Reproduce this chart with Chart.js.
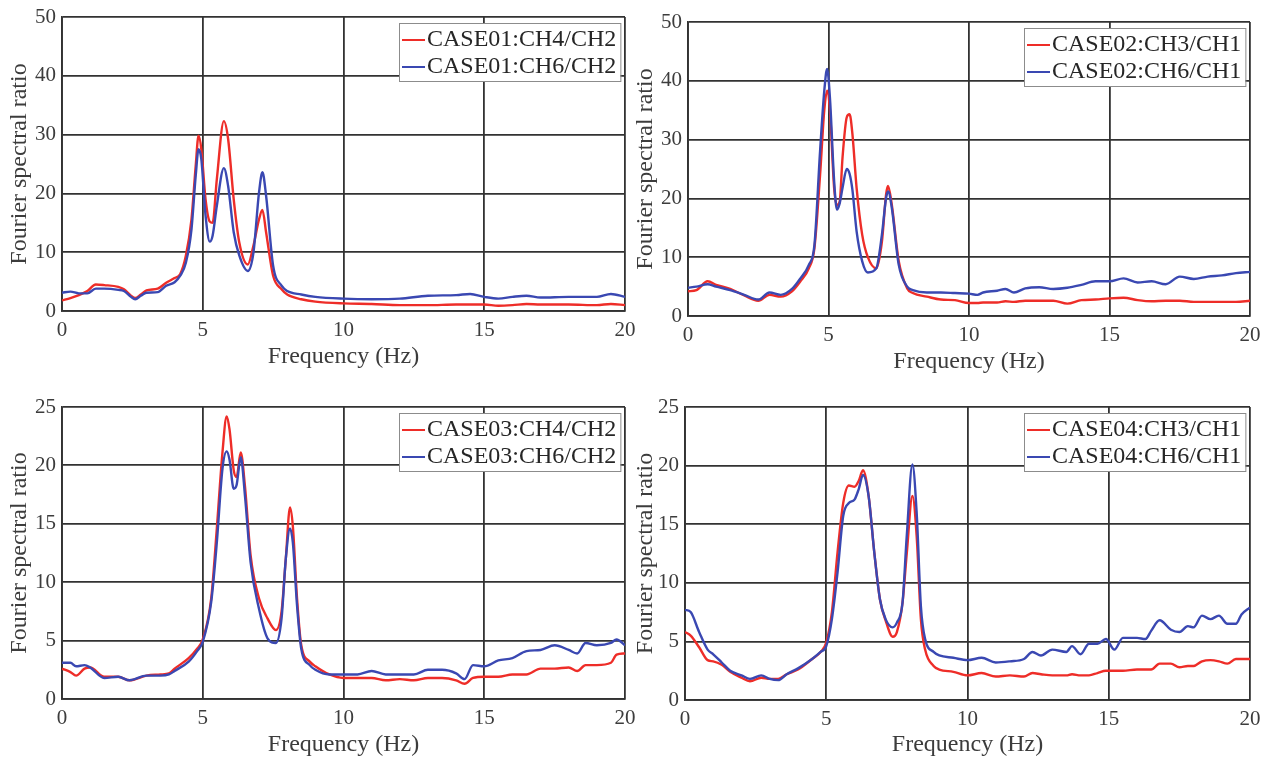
<!DOCTYPE html>
<html>
<head>
<meta charset="utf-8">
<script src="https://cdn.jsdelivr.net/npm/chart.js@4.4.1/dist/chart.umd.min.js"></script>
<style>
  html, body { margin: 0; padding: 0; background: #fff; }
  body { width: 1273px; height: 760px; position: relative; overflow: hidden; }
  canvas { position: absolute; }
</style>
</head>
<body>
<canvas id="c1" width="636" height="380" style="left:0px;top:0px"></canvas>
<canvas id="c2" width="643" height="380" style="left:630px;top:0px"></canvas>
<canvas id="c3" width="636" height="370" style="left:0px;top:390px"></canvas>
<canvas id="c4" width="643" height="370" style="left:630px;top:390px"></canvas>
<script>
// ---- data (frequency in Hz, Fourier spectral ratio) ----
const xTicks = [0, 5, 10, 15, 20];

const freq1 = [0, 0.3, 0.6, 0.9, 1.2, 1.5, 2.0, 2.2, 2.45, 2.6, 2.8, 3.0, 3.4, 3.7, 4.0, 4.2, 4.4, 4.6, 4.75, 4.85, 4.95, 5.1, 5.25, 5.35, 5.5, 5.75, 5.9, 6.1, 6.3, 6.6, 6.8, 7.0, 7.12, 7.25, 7.5, 7.8, 8.0, 8.5, 9.0, 10, 11, 12, 13, 14, 14.5, 15, 15.5, 16, 16.5, 17, 18, 19, 19.5, 20];
const case01Ch4 = [1.8, 2.2, 2.7, 3.4, 4.5, 4.4, 4.1, 3.7, 2.6, 2.2, 2.8, 3.5, 3.8, 4.8, 5.6, 6.3, 9.4, 15.6, 24.7, 29.8, 27.5, 19.0, 15.2, 15.0, 22.4, 32.3, 29.3, 19.0, 11.6, 7.9, 11.1, 15.6, 17.2, 13.4, 6.0, 3.7, 2.8, 2.0, 1.6, 1.3, 1.2, 1.0, 1.0, 1.1, 1.1, 1.1, 0.9, 1.0, 1.2, 1.1, 1.1, 1.0, 1.2, 1.0];
const case01Ch6 = [3.1, 3.3, 3.0, 3.0, 3.8, 3.8, 3.6, 3.4, 2.4, 2.0, 2.6, 3.1, 3.2, 4.3, 4.9, 6.0, 8.2, 13.9, 23.0, 27.5, 25.8, 16.2, 11.8, 12.8, 17.9, 24.3, 21.3, 13.4, 9.4, 6.8, 9.9, 20.2, 23.6, 19.6, 7.7, 4.3, 3.4, 2.8, 2.4, 2.1, 2.0, 2.1, 2.6, 2.7, 2.9, 2.4, 2.1, 2.4, 2.6, 2.3, 2.4, 2.4, 2.9, 2.4];

const freq2 = [0, 0.3, 0.7, 1.0, 1.5, 2.0, 2.5, 2.9, 3.3, 3.7, 4.0, 4.3, 4.5, 4.7, 4.85, 4.95, 5.05, 5.2, 5.3, 5.4, 5.5, 5.65, 5.75, 5.85, 6.0, 6.2, 6.4, 6.7, 6.9, 7.05, 7.12, 7.25, 7.5, 7.8, 8.0, 8.5, 9.0, 9.5, 10, 10.3, 10.5, 11, 11.3, 11.6, 12, 12.5, 13, 13.5, 14, 14.5, 15, 15.5, 16, 16.5, 17, 17.5, 18, 18.5, 19, 19.5, 20];
const case02Ch3 = [4.2, 4.4, 5.9, 5.3, 4.6, 3.5, 2.6, 3.6, 3.3, 4.2, 5.9, 8.1, 11.6, 24.0, 35.0, 38.3, 35.0, 21.8, 18.8, 19.5, 27.0, 33.8, 34.3, 31.0, 21.8, 13.8, 10.0, 8.1, 12.6, 20.7, 22.1, 19.0, 9.3, 4.7, 3.9, 3.3, 2.8, 2.7, 2.2, 2.2, 2.3, 2.3, 2.5, 2.4, 2.6, 2.6, 2.6, 2.1, 2.7, 2.8, 3.0, 3.1, 2.7, 2.5, 2.6, 2.6, 2.4, 2.4, 2.4, 2.4, 2.6];
const case02Ch6 = [4.8, 5.0, 5.4, 5.0, 4.4, 3.6, 2.8, 4.0, 3.6, 4.6, 6.4, 8.7, 12.1, 28.0, 38.3, 42.0, 37.2, 23.0, 18.1, 19.2, 21.8, 25.0, 24.2, 21.5, 14.4, 9.3, 7.4, 8.1, 13.8, 20.1, 21.2, 18.5, 8.7, 5.0, 4.4, 4.0, 4.0, 3.9, 3.8, 3.6, 4.0, 4.3, 4.6, 4.0, 4.7, 4.9, 4.6, 4.8, 5.3, 5.9, 5.9, 6.4, 5.7, 5.9, 5.4, 6.7, 6.3, 6.7, 6.9, 7.3, 7.5];

const freq3 = [0, 0.3, 0.5, 0.8, 1.0, 1.5, 2.0, 2.4, 3.0, 3.5, 3.8, 4.0, 4.5, 4.8, 5.0, 5.3, 5.5, 5.7, 5.85, 5.95, 6.1, 6.2, 6.35, 6.5, 6.7, 7.0, 7.3, 7.6, 7.8, 7.95, 8.1, 8.2, 8.35, 8.5, 8.8, 9.0, 9.5, 10, 10.5, 11, 11.5, 12, 12.5, 13, 13.5, 14, 14.3, 14.6, 15, 15.5, 16, 16.5, 17, 17.5, 18, 18.3, 18.6, 19, 19.5, 19.7, 20];
const case03Ch4 = [2.6, 2.3, 2.0, 2.6, 2.7, 1.9, 1.9, 1.6, 2.0, 2.1, 2.2, 2.6, 3.5, 4.3, 5.1, 8.6, 14.6, 21.1, 24.2, 23.1, 19.6, 19.0, 21.1, 18.2, 12.3, 8.6, 6.9, 5.9, 7.5, 12.0, 16.4, 14.8, 8.6, 4.6, 3.2, 2.8, 2.1, 1.8, 1.8, 1.8, 1.6, 1.7, 1.6, 1.8, 1.8, 1.6, 1.3, 1.8, 1.9, 1.9, 2.1, 2.1, 2.6, 2.6, 2.7, 2.4, 2.9, 2.9, 3.1, 3.8, 3.9];
const case03Ch6 = [3.1, 3.1, 2.8, 2.9, 2.7, 1.8, 1.9, 1.6, 2.0, 2.0, 2.1, 2.4, 3.2, 4.1, 4.9, 8.3, 13.4, 19.7, 21.2, 20.5, 18.0, 18.3, 20.7, 17.4, 11.7, 7.7, 5.2, 4.8, 6.9, 12.0, 14.6, 13.4, 8.0, 4.3, 2.9, 2.5, 2.1, 2.1, 2.1, 2.4, 2.1, 2.1, 2.1, 2.5, 2.5, 2.2, 1.7, 2.9, 2.8, 3.3, 3.5, 4.1, 4.2, 4.6, 4.2, 3.9, 4.8, 4.6, 4.8, 5.1, 4.6];

const freq4 = [0, 0.2, 0.5, 0.8, 1.0, 1.3, 1.6, 2.0, 2.3, 2.7, 3.0, 3.3, 3.6, 4.0, 4.5, 4.8, 5.0, 5.2, 5.4, 5.6, 5.8, 6.0, 6.15, 6.3, 6.5, 6.7, 6.9, 7.1, 7.35, 7.5, 7.7, 7.85, 8.05, 8.2, 8.35, 8.5, 8.8, 9.0, 9.5, 10, 10.5, 11, 11.5, 12, 12.3, 12.6, 13, 13.5, 13.7, 14, 14.3, 14.6, 14.9, 15.2, 15.5, 16, 16.3, 16.5, 16.8, 17.2, 17.5, 17.8, 18, 18.3, 18.6, 18.9, 19.2, 19.5, 19.7, 20];
const case04Ch3 = [5.8, 5.5, 4.5, 3.4, 3.3, 3.0, 2.4, 1.9, 1.6, 1.9, 1.8, 1.8, 2.2, 2.6, 3.5, 4.1, 4.9, 7.5, 12.6, 16.8, 18.3, 18.2, 18.7, 19.6, 17.4, 12.6, 8.6, 6.8, 5.4, 5.8, 8.3, 12.5, 17.4, 14.0, 6.9, 4.3, 2.9, 2.6, 2.4, 2.1, 2.3, 2.0, 2.1, 2.0, 2.3, 2.2, 2.1, 2.1, 2.2, 2.1, 2.1, 2.3, 2.5, 2.5, 2.5, 2.6, 2.6, 2.6, 3.1, 3.1, 2.8, 2.9, 2.9, 3.3, 3.4, 3.3, 3.1, 3.5, 3.5, 3.5];
const case04Ch6 = [7.7, 7.5, 5.8, 4.3, 3.9, 3.2, 2.5, 2.1, 1.8, 2.1, 1.8, 1.7, 2.2, 2.7, 3.5, 4.1, 4.6, 6.9, 10.9, 15.7, 16.8, 17.1, 18.0, 19.2, 17.4, 12.6, 8.6, 6.9, 6.2, 6.6, 8.3, 14.0, 20.1, 16.0, 8.0, 5.2, 4.1, 3.8, 3.6, 3.4, 3.6, 3.2, 3.3, 3.5, 4.1, 3.8, 4.3, 4.1, 4.6, 3.9, 4.8, 4.8, 5.2, 4.3, 5.3, 5.3, 5.2, 5.9, 6.8, 6.0, 5.8, 6.3, 6.2, 7.2, 6.9, 7.2, 6.5, 6.5, 7.3, 7.9];

const RED = 'rgb(238, 45, 40)';
const BLUE = 'rgb(58, 72, 178)';
const GRID = 'rgb(50, 50, 50)';
const FONT = '"Liberation Serif", "Times New Roman", serif';

// legend drawn inside the plot, top-right, like the original figure
const insideLegend = {
    id: 'insideLegend',
    afterDatasetsDraw(chart) {
        const { ctx, chartArea } = chart;
        const sets = chart.data.datasets;
        ctx.save();
        ctx.font = '24px ' + FONT;
        const textW = Math.max(...sets.map(d => ctx.measureText(d.label).width));
        const sample = 23, rowH = 27;
        const w = 3 + sample + 2 + textW + 4;
        const h = rowH * sets.length + 4;
        const x = Math.round(chartArea.right - 5 - w);
        const y = Math.round(chartArea.top + 6);
        ctx.fillStyle = '#fff';
        ctx.fillRect(x, y, w, h);
        ctx.strokeStyle = '#8c8c8c';
        ctx.lineWidth = 1;
        ctx.strokeRect(x + 0.5, y + 0.5, w, h);
        sets.forEach((d, i) => {
            const cy = y + 17 + i * rowH;
            ctx.strokeStyle = d.borderColor;
            ctx.lineWidth = 2;
            ctx.beginPath();
            ctx.moveTo(x + 3, cy);
            ctx.lineTo(x + 3 + sample, cy);
            ctx.stroke();
            ctx.fillStyle = '#262626';
            ctx.textBaseline = 'middle';
            ctx.textAlign = 'left';
            ctx.fillText(d.label, x + 3 + sample + 2, cy);
        });
        ctx.restore();
    }
};

const points = (xs, ys) => xs.map((x, i) => ({ x: x, y: ys[i] }));

// box = [yAxisWidth, padTop, padRight, xAxisHeight, padBottom, yTitlePad]
const makePanel = (id, freq, redVals, blueVals, redLabel, blueLabel, yMax, yStep, box) => {
    const ctx = document.getElementById(id).getContext('2d');
    return new Chart(ctx, {
        type: 'line',
        data: {
            datasets: [{
                label: redLabel,
                data: points(freq, redVals),
                borderColor: RED,
                borderWidth: 2.4,
                pointRadius: 0,
                cubicInterpolationMode: 'monotone',
                order: 2,
            }, {
                label: blueLabel,
                data: points(freq, blueVals),
                borderColor: BLUE,
                borderWidth: 2.4,
                pointRadius: 0,
                cubicInterpolationMode: 'monotone',
                order: 1,
            }],
        },
        options: {
            responsive: false,
            animation: false,
            devicePixelRatio: 1,
            layout: { padding: { left: 0, top: box[1], right: box[2], bottom: box[4] } },
            plugins: { legend: { display: false }, tooltip: { enabled: false } },
            scales: {
                x: {
                    type: 'linear',
                    min: 0,
                    max: 20,
                    afterBuildTicks: axis => { axis.ticks = xTicks.map(v => ({ value: v })); },
                    ticks: { autoSkip: false, maxRotation: 0, padding: 7, color: '#3c3c3c', font: { family: FONT, size: 21 } },
                    grid: { color: GRID, lineWidth: 1.8, drawTicks: false },
                    border: { color: GRID, width: 1.8 },
                    title: { display: true, text: 'Frequency (Hz)', color: '#3c3c3c', padding: { top: 0, bottom: 1 }, font: { family: FONT, size: 24 } },
                    afterFit: axis => { axis.height = box[3]; axis.paddingLeft = 0; axis.paddingRight = 0; },
                },
                y: {
                    min: 0,
                    max: yMax,
                    ticks: { stepSize: yStep, padding: 6, color: '#3c3c3c', font: { family: FONT, size: 21 } },
                    grid: { color: GRID, lineWidth: 1.8, drawTicks: false },
                    border: { color: GRID, width: 1.8 },
                    title: { display: true, text: 'Fourier spectral ratio', color: '#3c3c3c', padding: { top: box[5], bottom: 0 }, font: { family: FONT, size: 24 } },
                    afterFit: axis => { axis.width = box[0]; axis.paddingTop = 0; axis.paddingBottom = 0; },
                },
            },
        },
        plugins: [insideLegend],
    });
};

makePanel('c1', freq1, case01Ch4, case01Ch6, 'CASE01:CH4/CH2', 'CASE01:CH6/CH2', 50, 10, [62, 17, 11, 61, 8, 5]);
makePanel('c2', freq2, case02Ch3, case02Ch6, 'CASE02:CH3/CH1', 'CASE02:CH6/CH1', 50, 10, [58, 22, 23, 61, 3, 1]);
makePanel('c3', freq3, case03Ch4, case03Ch6, 'CASE03:CH4/CH2', 'CASE03:CH6/CH2', 25, 5, [62, 17, 11, 61, 0, 5]);
makePanel('c4', freq4, case04Ch3, case04Ch6, 'CASE04:CH3/CH1', 'CASE04:CH6/CH1', 25, 5, [55, 17, 23, 60, 0, 1]);
</script>
</body>
</html>
